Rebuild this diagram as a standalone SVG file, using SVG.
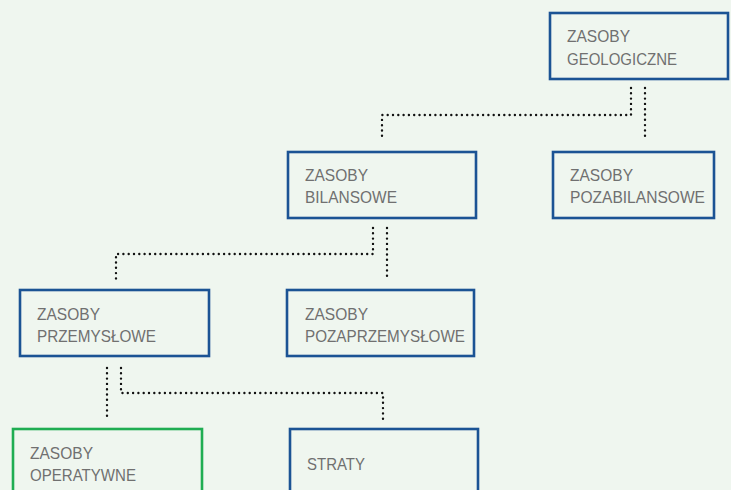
<svg xmlns="http://www.w3.org/2000/svg" width="731" height="490" viewBox="0 0 731 490">
<style>
.box{fill:#eff6ef;stroke:#1b5394;stroke-width:2.6}
.green{stroke:#1fad52}
.t{font-family:"Liberation Sans",Arial,sans-serif;font-size:17px;fill:#707070}
.c{fill:none;stroke:#111;stroke-width:2.4;stroke-linecap:round;stroke-dasharray:0 5.3}
</style>
<rect width="731" height="490" fill="#eff6ef"/>
<g id="connectors">
<path class="c" d="M631 88 V115 H382 V140"/>
<path class="c" d="M645 88 V140"/>
<path class="c" d="M373 228 V254 H116 V280"/>
<path class="c" d="M387 228 V280"/>
<path class="c" d="M107 368 V419"/>
<path class="c" d="M121 368 V393 H383 V419"/>
</g>
<g id="geologiczne">
<rect class="box" x="550" y="13" width="178" height="66"/>
<text class="t" x="567" y="42" textLength="63" lengthAdjust="spacingAndGlyphs">ZASOBY</text>
<text class="t" x="567" y="65" textLength="110" lengthAdjust="spacingAndGlyphs">GEOLOGICZNE</text>
</g>
<g id="bilansowe">
<rect class="box" x="288" y="152" width="188" height="66"/>
<text class="t" x="305" y="181" textLength="63" lengthAdjust="spacingAndGlyphs">ZASOBY</text>
<text class="t" x="305" y="203" textLength="92" lengthAdjust="spacingAndGlyphs">BILANSOWE</text>
</g>
<g id="pozabilansowe">
<rect class="box" x="553" y="152" width="161" height="66"/>
<text class="t" x="570" y="181" textLength="63" lengthAdjust="spacingAndGlyphs">ZASOBY</text>
<text class="t" x="570" y="203" textLength="135" lengthAdjust="spacingAndGlyphs">POZABILANSOWE</text>
</g>
<g id="przemyslowe">
<rect class="box" x="20" y="290" width="189" height="66"/>
<text class="t" x="37" y="320" textLength="63" lengthAdjust="spacingAndGlyphs">ZASOBY</text>
<text class="t" x="37" y="342" textLength="119" lengthAdjust="spacingAndGlyphs">PRZEMYSŁOWE</text>
</g>
<g id="pozaprzemyslowe">
<rect class="box" x="287" y="290" width="187" height="66"/>
<text class="t" x="305" y="320" textLength="63" lengthAdjust="spacingAndGlyphs">ZASOBY</text>
<text class="t" x="305" y="342" textLength="160" lengthAdjust="spacingAndGlyphs">POZAPRZEMYSŁOWE</text>
</g>
<g id="operatywne">
<rect class="box green" x="13" y="429" width="189" height="70"/>
<text class="t" x="30" y="459" textLength="63" lengthAdjust="spacingAndGlyphs">ZASOBY</text>
<text class="t" x="30" y="481" textLength="106" lengthAdjust="spacingAndGlyphs">OPERATYWNE</text>
</g>
<g id="straty">
<rect class="box" x="290" y="429" width="188" height="70"/>
<text class="t" x="307" y="470" textLength="58" lengthAdjust="spacingAndGlyphs">STRATY</text>
</g>
</svg>
